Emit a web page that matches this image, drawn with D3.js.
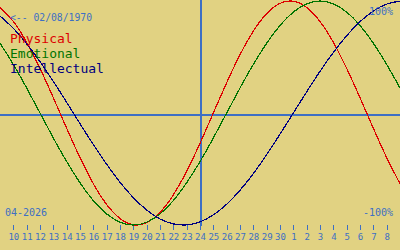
<!DOCTYPE html>
<html><head><meta charset="utf-8">
<script src="https://cdn.jsdelivr.net/npm/d3@7"></script>
<style>html,body{margin:0;padding:0;background:#e1d282;}svg{display:block;}</style>
</head><body>
<svg id="c" width="400" height="250"></svg>
<script>
// day offsets relative to the current date (24 April 2026)
const dayOffset = [-15,-14,-13,-12,-11,-10,-9,-8,-7,-6,-5,-4,-3,-2,-1,0,1,2,3,4,5,6,7,8,9,10,11,12,13,14,15];
const physical = [0.942,0.817,0.631,0.398,0.136,-0.136,-0.398,-0.631,-0.817,-0.942,-0.998,-0.979,-0.888,-0.731,-0.520,-0.270,0.000,0.270,0.520,0.731,0.888,0.979,0.998,0.942,0.817,0.631,0.398,0.136,-0.136,-0.398,-0.631];
const emotional = [0.623,0.434,0.223,0.000,-0.223,-0.434,-0.623,-0.782,-0.901,-0.975,-1.000,-0.975,-0.901,-0.782,-0.623,-0.434,-0.223,0.000,0.223,0.434,0.623,0.782,0.901,0.975,1.000,0.975,0.901,0.782,0.623,0.434,0.223];
const intellectual = [0.866,0.756,0.618,0.458,0.282,0.095,-0.095,-0.282,-0.458,-0.618,-0.756,-0.866,-0.946,-0.990,-0.999,-0.972,-0.910,-0.815,-0.690,-0.541,-0.372,-0.189,0.000,0.189,0.372,0.541,0.690,0.815,0.910,0.972,0.999];
const tickOffsets = [-14,-13,-12,-11,-10,-9,-8,-7,-6,-5,-4,-3,-2,-1,0,1,2,3,4,5,6,7,8,9,10,11,12,13,14];
const tickLabels = ["10","11","12","13","14","15","16","17","18","19","20","21","22","23","24","25","26","27","28","29","30","1","2","3","4","5","6","7","8"];
const seriesNames = ["Physical","Emotional","Intellectual"];
const seriesColors = ["#dd0000","#007400","#000080"];
const birthLabel = "<-- 02/08/1970";
const monthLabel = "04-2026";
const topLabel = "100%";
const bottomLabel = "-100%";

const svg = d3.select("#c");
const W = 400, H = 250;
const blue = "#3d6fc4";
const mono = "'DejaVu Sans Mono', 'Liberation Mono', monospace";

svg.append("rect").attr("width", W).attr("height", H).attr("fill", "#e1d282");

const x = d3.scaleLinear().domain([-15, 15]).range([0, 400]);
const y = d3.scaleLinear().domain([-1, 1]).range([225, 1]);

// axis lines
svg.append("line").attr("x1", 0).attr("x2", W).attr("y1", y(0) + 2).attr("y2", y(0) + 2)
  .attr("stroke", blue).attr("stroke-width", 2).attr("shape-rendering", "crispEdges");
svg.append("line").attr("x1", x(0) + 1).attr("x2", x(0) + 1).attr("y1", 0).attr("y2", 226)
  .attr("stroke", blue).attr("stroke-width", 2).attr("shape-rendering", "crispEdges");

// bottom day axis
const axis = d3.axisBottom(x).tickValues(tickOffsets)
  .tickFormat((d, i) => tickLabels[i]).tickSize(5).tickPadding(4);
const ax = svg.append("g").attr("transform", "translate(0,225)").call(axis);
ax.select(".domain").remove();
ax.selectAll(".tick line").attr("stroke", blue).attr("shape-rendering", "crispEdges");
ax.selectAll(".tick text").attr("fill", blue).attr("font-family", mono).attr("font-size", 9);

// curves
const series = [physical, emotional, intellectual];
const line = d3.line().x((d, i) => x(dayOffset[i])).y(d => y(d)).curve(d3.curveNatural);
series.forEach((s, k) => {
  svg.append("path").datum(s).attr("d", line).attr("fill", "none")
    .attr("stroke", seriesColors[k]).attr("stroke-width", 1.2)
    .attr("shape-rendering", "crispEdges");
});

// texts
svg.append("text").attr("x", 10).attr("y", 21).attr("fill", blue)
  .attr("font-family", mono).attr("font-size", 11)
  .attr("textLength", 82).attr("lengthAdjust", "spacingAndGlyphs").text(birthLabel);
seriesNames.forEach((n, k) => {
  svg.append("text").attr("x", 10).attr("y", 43 + k * 15).attr("fill", seriesColors[k])
    .attr("font-family", mono).attr("font-size", 13).text(n);
});
svg.append("text").attr("x", 393).attr("y", 15).attr("text-anchor", "end").attr("fill", blue)
  .attr("font-family", mono).attr("font-size", 10).text(topLabel);
svg.append("text").attr("x", 393).attr("y", 216).attr("text-anchor", "end").attr("fill", blue)
  .attr("font-family", mono).attr("font-size", 10).text(bottomLabel);
svg.append("text").attr("x", 5).attr("y", 216).attr("fill", blue)
  .attr("font-family", mono).attr("font-size", 10).text(monthLabel);
</script>
</body></html>
